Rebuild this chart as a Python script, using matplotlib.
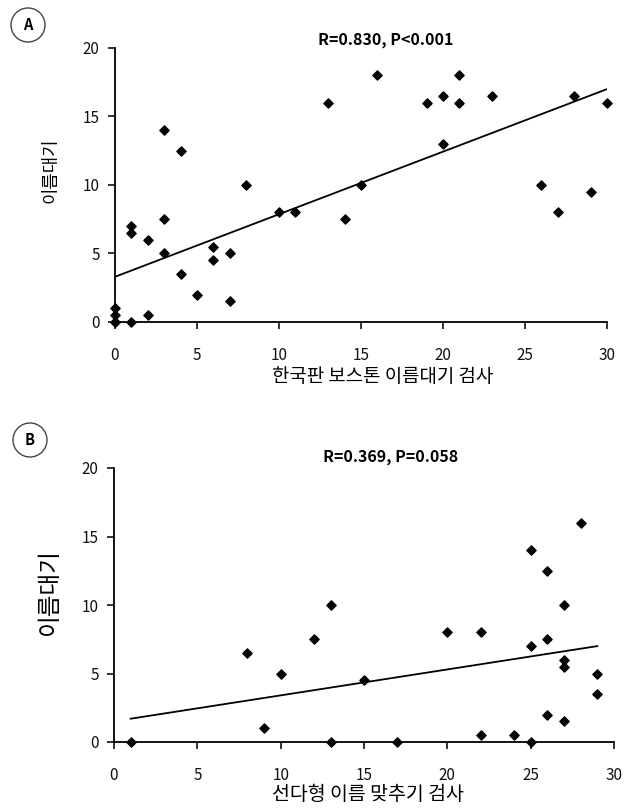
import matplotlib
matplotlib.use("Agg")
import matplotlib.pyplot as plt
from matplotlib.patches import Ellipse

plt.rcParams['font.family'] = ['Noto Sans CJK KR', 'DejaVu Sans']

# Panel A data
a_x = [0, 0, 0, 0, 1, 1, 1, 2, 2, 3, 3, 3, 4, 4, 5, 6, 6, 7, 7, 8, 10, 11, 13, 14,
       15, 16, 19, 20, 20, 21, 21, 23, 26, 27, 28, 29, 30]
a_y = [0, 0.5, 1, 0, 7, 6.5, 0, 6, 0.5, 14, 7.5, 5, 12.5, 3.5, 2, 5.5, 4.5, 5, 1.5, 10, 8, 8, 16, 7.5,
       10, 18, 16, 16.5, 13, 18, 16, 16.5, 10, 8, 16.5, 9.5, 16]
a_line_x = [0, 30]
a_line_y = [3.3, 17.0]
a_title = "R=0.830, P<0.001"
a_xlabel = "한국판 보스톤 이름대기 검사"

# Panel B data
b_x = [1, 8, 9, 10, 12, 13, 13, 15, 17, 20, 22, 22, 24, 25, 25, 25, 26, 26, 26,
       27, 27, 27, 27, 28, 29, 29]
b_y = [0, 6.5, 1, 5, 7.5, 10, 0, 4.5, 0, 8, 8, 0.5, 0.5, 14, 7, 0, 12.5, 7.5, 2,
       10, 6, 5.5, 1.5, 16, 5, 3.5]
b_line_x = [1, 29]
b_line_y = [1.7, 7.0]
b_title = "R=0.369, P=0.058"
b_xlabel = "선다형 이름 맞추기 검사"

ylabel = "이름대기"
x_ticks = [0, 5, 10, 15, 20, 25, 30]
y_ticks = [0, 5, 10, 15, 20]

W, H = 636, 810
fig = plt.figure(figsize=(W / 100, H / 100), dpi=100)


def px(x, y):
    return x / W, 1 - y / H


def add_panel(rect_px, xs, ys, lx, ly, title, title_xy, xlabel, xlabel_xy, xlabel_size,
              ylabel_xy, ylabel_size, letter, circ_xy):
    l, r, t, b = rect_px
    ax = fig.add_axes([l / W, 1 - b / H, (r - l) / W, (b - t) / H])
    ax.scatter(xs, ys, marker='D', s=22, color='black', zorder=3, clip_on=False)
    ax.plot(lx, ly, color='black', lw=1.3)
    ax.set_xlim(0, 30)
    ax.set_ylim(0, 20)
    ax.set_xticks(x_ticks)
    ax.set_yticks(y_ticks)
    for s in ['top', 'right']:
        ax.spines[s].set_visible(False)
    for s in ['left', 'bottom']:
        ax.spines[s].set_linewidth(1.3)
    ax.tick_params(direction='out', length=5, width=1.2, labelsize=11, colors='#111111')
    ax.tick_params(axis='x', pad=13)
    ax.tick_params(axis='y', pad=6)
    fig.text(*px(*title_xy), title, ha='center', va='center', fontsize=11.5, fontweight='bold')
    fig.text(*px(*xlabel_xy), xlabel, ha='center', va='center', fontsize=xlabel_size)
    fig.text(*px(*ylabel_xy), ylabel, ha='center', va='center', rotation=90, fontsize=ylabel_size)
    cx, cy = circ_xy
    e = Ellipse(px(cx, cy), 34 / W, 34 / H, transform=fig.transFigure,
                facecolor='white', edgecolor='#444444', lw=1.0)
    fig.add_artist(e)
    fig.text(*px(cx, cy), letter, ha='center', va='center', fontsize=10.5, fontweight='bold')
    return ax


add_panel((115, 607, 48, 322), a_x, a_y, a_line_x, a_line_y,
          a_title, (386, 40), a_xlabel, (383, 377), 13.6,
          (51, 170), 12.8, 'A', (28, 25))
add_panel((114, 614, 468, 742), b_x, b_y, b_line_x, b_line_y,
          b_title, (391, 457), b_xlabel, (368, 794), 14,
          (50, 593), 17, 'B', (30, 440))

fig.savefig("out.png", dpi=100, facecolor='white')
